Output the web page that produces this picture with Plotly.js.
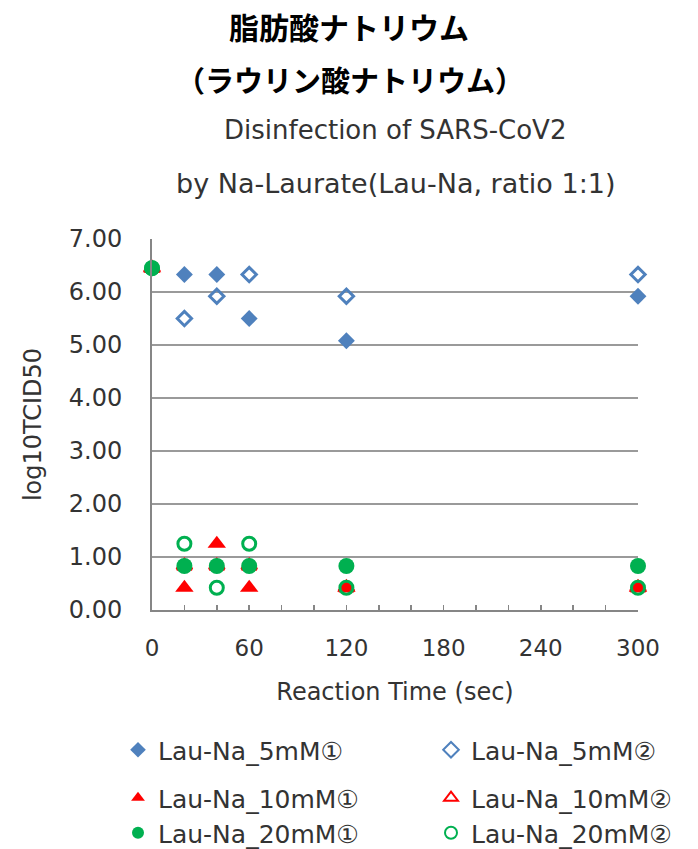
<!DOCTYPE html>
<html>
<head>
<meta charset="utf-8">
<script src="https://cdn.plot.ly/plotly-3.0.1.min.js"></script>
<style>html,body{margin:0;padding:0;background:#fff;}</style>
</head>
<body>
<div id="chart" style="width:698px;height:849px;"></div>
<script>
// ---- data ----
const times = [0, 20, 40, 60, 120, 300];
const seriesNames = ["Lau-Na_5mM①", "Lau-Na_5mM②", "Lau-Na_10mM①", "Lau-Na_10mM②", "Lau-Na_20mM①", "Lau-Na_20mM②"];
const lau5mM_1  = [null, 6.33, 6.33, 5.50, 5.08, 5.92];
const lau5mM_2  = [null, 5.50, 5.92, 6.33, 5.92, 6.33];
const lau10mM_1 = [6.45, 0.42, 1.25, 0.42, 0.42, 0.42];
const lau10mM_2 = [6.45, 0.83, 0.83, 0.83, 0.42, 0.42];
const lau20mM_1 = [6.45, 0.83, 0.83, 0.83, 0.83, 0.83];
const lau20mM_2 = [6.45, 1.25, 0.42, 1.25, 0.42, 0.42];
const xTickVals = [0, 60, 120, 180, 240, 300];
const yTickVals = [0, 1, 2, 3, 4, 5, 6, 7];

const titleJa1 = "脂肪酸ナトリウム";
const titleJa2 = "（ラウリン酸ナトリウム）";
const titleEn1 = "Disinfection of SARS-CoV2";
const titleEn2 = "by Na-Laurate(Lau-Na, ratio 1:1)";
const xTitle = "Reaction Time (sec)";
const yTitle = "log10TCID50";

// ---- styles ----
const BLUE = "#4F81BD", RED = "#FF0000", GREEN = "#00B050";
const FONT = "DejaVu Sans";
const TXT = "#333333";

function tr(name, y, symbol, color, size, open, legend) {
  return {
    type: "scatter", mode: "markers", x: times, y: y, name: name,
    cliponaxis: false, legend: legend,
    marker: open
      ? {symbol: symbol, size: size, color: color, line: {color: color, width: 3}}
      : {symbol: symbol, size: size, color: color, line: {width: 0}}
  };
}

const data = [
  tr(seriesNames[0], lau5mM_1, "diamond", BLUE, 13, false, "legend"),
  tr(seriesNames[1], lau5mM_2, "diamond-open", BLUE, 11, true, "legend"),
  tr(seriesNames[2], lau10mM_1, "triangle-up", RED, 16, false, "legend2"),
  tr(seriesNames[3], lau10mM_2, "triangle-up-open", RED, 13, true, "legend2"),
  tr(seriesNames[4], lau20mM_1, "circle", GREEN, 16, false, "legend3"),
  tr(seriesNames[5], lau20mM_2, "circle-open", GREEN, 13, true, "legend3")
];

const L = 152, R = 60, T = 239, B = 239, H = 849, W = 698;
const plotH = H - T - B, plotW = W - L - R;
const py = p => 1 + (T - p) / plotH;          // pixel y -> paper y
const px = p => (p - L) / plotW;              // pixel x -> paper x

function legendAt(ytop) {
  return {
    orientation: "h", x: px(118), xanchor: "left", y: py(ytop), yanchor: "top",
    entrywidth: 268, entrywidthmode: "pixels", itemsizing: "constant",
    font: {family: "DejaVu Sans, Noto Sans CJK JP", size: 25, color: TXT}, bgcolor: "rgba(0,0,0,0)",
    borderwidth: 0
  };
}

const layout = {
  width: W, height: H,
  margin: {l: L, r: R, t: T, b: B, pad: 0, autoexpand: false},
  paper_bgcolor: "#ffffff", plot_bgcolor: "#ffffff",
  font: {family: FONT, color: TXT},
  title: {
    text: "<b>" + titleJa1 + "</b>",
    font: {family: "Noto Sans CJK JP", size: 30, color: "#000000"},
    xref: "container", x: 0.5, xanchor: "center",
    yref: "container", y: 1 - 28 / H, yanchor: "middle"
  },
  annotations: [
    {text: "<b>" + titleJa2 + "</b>", xref: "paper", yref: "paper", x: px(350), y: py(79),
     xanchor: "center", yanchor: "middle", showarrow: false,
     font: {family: "Noto Sans CJK JP", size: 29, color: "#000000"}},
    {text: titleEn1, xref: "paper", yref: "paper", x: 0.5, y: py(130),
     xanchor: "center", yanchor: "middle", showarrow: false,
     font: {family: FONT, size: 26, color: TXT}},
    {text: titleEn2, xref: "paper", yref: "paper", x: 0.5, y: py(183),
     xanchor: "center", yanchor: "middle", showarrow: false,
     font: {family: FONT, size: 27, color: TXT}}
  ],
  xaxis: {
    range: [0, 300], tickvals: xTickVals, ticktext: xTickVals.map(String),
    ticks: "inside", ticklen: 5, tickwidth: 1.5, tickcolor: "#868686",
    minor: {dtick: 20, tick0: 0, ticks: "inside", ticklen: 5, tickwidth: 1.5, tickcolor: "#868686", showgrid: false},
    showline: true, linecolor: "#868686", linewidth: 2, mirror: false,
    showgrid: false, zeroline: false,
    tickfont: {family: FONT, size: 23, color: TXT},
    ticklabelstandoff: 16,
    title: {text: xTitle, font: {family: FONT, size: 24, color: TXT}, standoff: 24}
  },
  yaxis: {
    range: [0, 7.001], tickvals: yTickVals, ticktext: yTickVals.map(v => v.toFixed(2)),
    ticks: "", showline: true, linecolor: "#868686", linewidth: 2,
    showgrid: true, gridcolor: "#9a9a9a", gridwidth: 1.5, zeroline: false,
    tickfont: {family: FONT, size: 24, color: TXT},
    ticklabelstandoff: 23,
    title: {text: yTitle, font: {family: FONT, size: 24, color: TXT}, standoff: 20}
  },
  legend: legendAt(727),
  legend2: legendAt(775),
  legend3: legendAt(810),
  showlegend: true
};

Plotly.newPlot("chart", data, layout, {displayModeBar: false, staticPlot: true});
</script>
</body>
</html>
